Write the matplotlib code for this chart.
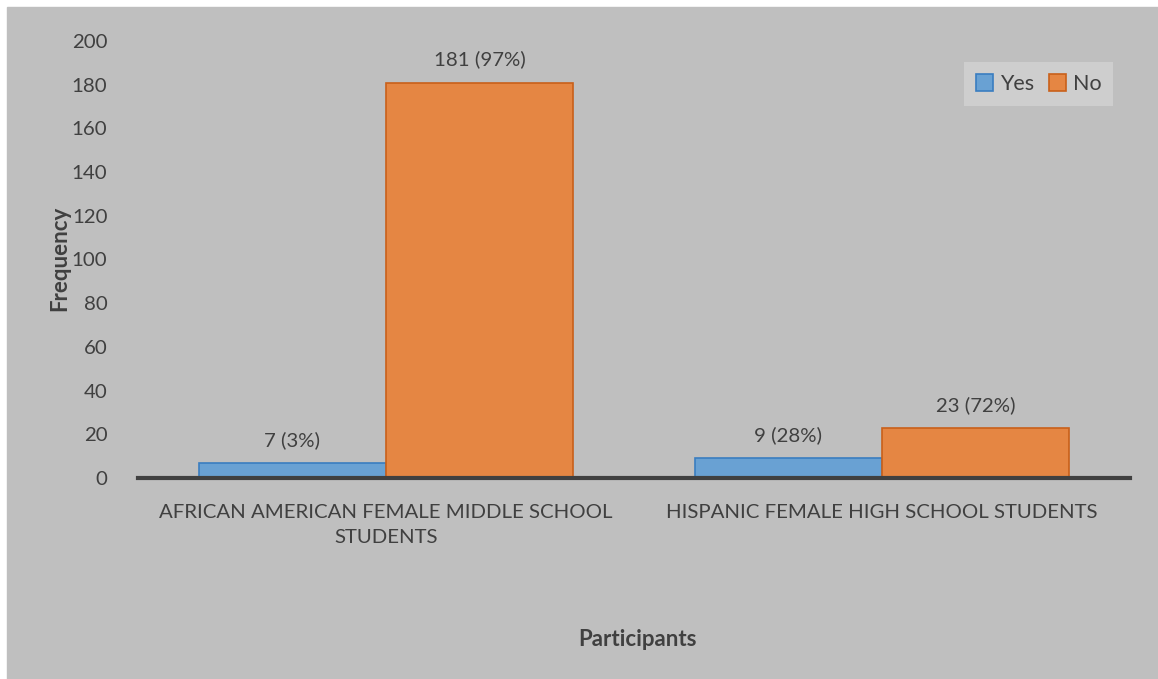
import matplotlib
matplotlib.use("Agg")
import matplotlib.pyplot as plt
import numpy as np

categories = ["AFRICAN AMERICAN FEMALE MIDDLE SCHOOL\nSTUDENTS",
              "HISPANIC FEMALE HIGH SCHOOL STUDENTS"]
yes_counts = [7, 9]
no_counts = [181, 23]
yes_labels = ["7 (3%)", "9 (28%)"]
no_labels = ["181 (97%)", "23 (72%)"]

BG = "#BFBFBF"
TXT = "#404040"
FS = 14.7

plt.rcParams["font.family"] = ["Lato", "DejaVu Sans"]

fig = plt.figure(figsize=(11.58, 6.79), dpi=100)
fig.patches.append(plt.Rectangle((7 / 1158, 0), 1, 1 - 7 / 679,
                                 transform=fig.transFigure, color=BG, zorder=-10))
ax = fig.add_axes([138 / 1158, 1 - 478 / 679, 992 / 1158, 437 / 679])
ax.patch.set_alpha(0)

x = np.arange(len(categories))
w = 0.378
b1 = ax.bar(x - w / 2, yes_counts, w, color="#69A1D3", edgecolor="#3A7DC0",
            linewidth=1.2, label="Yes")
b2 = ax.bar(x + w / 2, no_counts, w, color="#E58643", edgecolor="#C9601A",
            linewidth=1.2, label="No")

for bars, labs in ((b1, yes_labels), (b2, no_labels)):
    for r, t in zip(bars, labs):
        ax.annotate(t, (r.get_x() + r.get_width() / 2, r.get_height()),
                    xytext=(0, 10), textcoords="offset points",
                    ha="center", va="bottom", fontsize=FS, color=TXT)

ax.set_xlim(-0.5, 1.5)
ax.set_ylim(0, 200)
ax.set_yticks(range(0, 201, 20))
ax.set_xticks(x)
ax.set_xticklabels(categories, fontsize=FS, color=TXT, linespacing=1.55)
ax.tick_params(axis="y", length=0, labelsize=FS, labelcolor=TXT, pad=22)
ax.tick_params(axis="x", length=0, pad=19)
for s in ("top", "right", "left"):
    ax.spines[s].set_visible(False)
ax.spines["bottom"].set_color(TXT)
ax.spines["bottom"].set_linewidth(3)

fig.text(60 / 1158, 1 - 258 / 679, "Frequency", rotation=90, ha="center",
         va="center", fontsize=16, fontweight="bold", color=TXT)
fig.text(638 / 1158, 1 - 640 / 679, "Participants", ha="center",
         va="center", fontsize=16, fontweight="bold", color=TXT)

leg = ax.legend(ncol=2, loc="upper right", bbox_to_anchor=(0.983, 0.952),
                borderaxespad=0, frameon=True, fancybox=False, fontsize=15.5,
                handlelength=0.8, handleheight=0.8, handletextpad=0.3,
                columnspacing=0.7, borderpad=0.55)
leg.get_frame().set_facecolor("#D3D3D3")
leg.get_frame().set_edgecolor("none")
for t in leg.get_texts():
    t.set_color(TXT)

fig.savefig("out.png", dpi=100)
